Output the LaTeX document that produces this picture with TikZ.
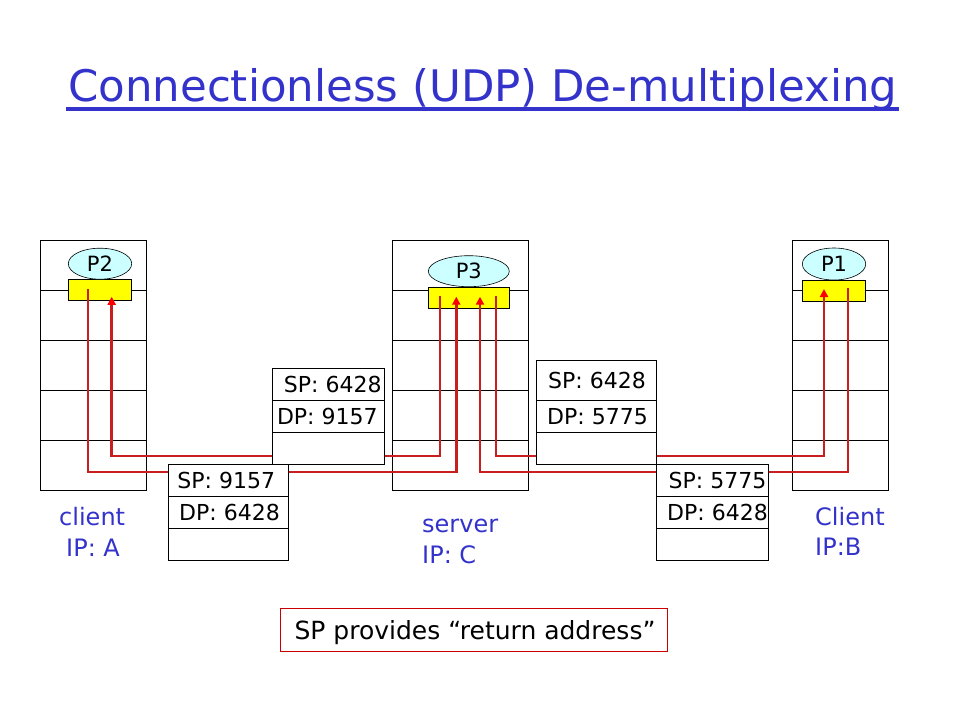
\documentclass[tikz,border=0pt]{standalone}
\usepackage{fontspec}
\setmainfont{DejaVu Sans}
\usetikzlibrary{arrows.meta,shapes.geometric}
\definecolor{ttl}{RGB}{51,51,204}
\definecolor{flowred}{RGB}{200,30,30}
\definecolor{tipred}{RGB}{250,0,0}
\definecolor{notered}{RGB}{204,0,0}
\definecolor{sockyellow}{RGB}{255,255,0}
\definecolor{proccyan}{RGB}{204,255,255}
\begin{document}
\begin{tikzpicture}[x=1pt,y=-1pt,
  hostbox/.style={draw=black,line width=0.8pt,fill=white,minimum height=249.7pt,inner sep=0pt,outer sep=0pt},
  sockbox/.style={draw=black,line width=0.8pt,fill=sockyellow,minimum height=21pt,inner sep=0pt,outer sep=0pt},
  procell/.style={ellipse,draw=black,line width=0.6pt,fill=proccyan,minimum height=31pt,inner sep=0pt,outer sep=0pt,font=\fontsize{21}{21}\selectfont},
  flow/.style={draw=flowred,line width=2.7pt},
  flowarr/.style={flow,-{Triangle[length=8pt,width=8pt,color=tipred]}},
  pktrow/.style={draw=black,line width=0.8pt,fill=white,inner sep=0pt,outer sep=0pt},
  pkttext/.style={font=\fontsize{22}{22}\selectfont,inner sep=0pt},
  hostlabel/.style={text=ttl,font=\fontsize{24}{24}\selectfont,inner sep=0pt,anchor=base west}
]
\useasboundingbox (0,0) rectangle (960,720);
\fill[white] (0,0) rectangle (960,720);

% title
\node[anchor=base west,inner sep=0pt,text=ttl] (title) at (68,101.5)
  {\resizebox{829pt}{!}{\fontsize{44}{44}\selectfont Connectionless (UDP) De-multiplexing}};
\draw[ttl,line width=3.5pt] (66,109) -- (899,109);

% hosts
\node[hostbox,minimum width=106pt] (hA) at (93.3,365.2) {};
\node[hostbox,minimum width=136pt] (hC) at (460.3,365.2) {};
\node[hostbox,minimum width=96pt] (hB) at (840.3,365.2) {};
\foreach \h in {hA,hC,hB}{
  \foreach \yy in {290.3,340.3,390.3,440.3}{
    \draw[line width=0.8pt] (\h.west |- 0,\yy) -- (\h.east |- 0,\yy);
  }
}

% sockets
\node[sockbox,minimum width=63.4pt] (sA) at (100,289.8) {};
\node[sockbox,minimum width=81pt,minimum height=21.4pt] (sC) at (468.8,298) {};
\node[sockbox,minimum width=63.4pt,minimum height=21.4pt] (sB) at (834,291) {};

% processes
\node[procell,minimum width=63.4pt] (pA) at (100,263.7) {P2};
\node[procell,minimum width=81pt] (pC) at (468.8,271.2) {P3};
\node[procell,minimum width=63.4pt,minimum height=32pt] (pB) at (834,264) {P1};

% flows
\draw[flowarr] ([xshift=-12pt,yshift=1pt]sA.center) -- ++(0,183.2) -| ([xshift=-12.5pt,yshift=1.3pt]sC.center);
\draw[flowarr] ([xshift=-28.8pt,yshift=2pt]sC.center) -- ++(0,160) -| ([xshift=11.7pt,yshift=-7pt]sA.center);
\draw[flowarr] ([xshift=27.2pt,yshift=2pt]sC.center) -- ++(0,160) -| ([xshift=-10pt,yshift=2pt]sB.center);
\draw[flowarr] ([xshift=14pt,yshift=3pt]sB.center) -- ++(0,184) -| ([xshift=11.2pt,yshift=1.3pt]sC.center);

% packets
\node[pktrow,minimum width=120pt,minimum height=32.4pt] (q1a) at (228.3,480.5) {};
\node[pktrow,minimum width=120pt,minimum height=32pt] (q1b) at (228.3,512.7) {};
\node[pktrow,minimum width=120pt,minimum height=31.3pt] (q1c) at (228.3,544.35) {};
\node[pkttext] (q1sp) at ([xshift=-2pt]q1a.center) {SP: 9157};
\node[pkttext] (q1dp) at ([xshift=1.2pt]q1b.center) {DP: 6428};

\node[pktrow,minimum width=112pt,minimum height=32pt] (q2a) at (328.3,384.3) {};
\node[pktrow,minimum width=112pt,minimum height=32pt] (q2b) at (328.3,416.3) {};
\node[pktrow,minimum width=112pt,minimum height=32pt] (q2c) at (328.3,448.3) {};
\node[pkttext] (q2sp) at ([xshift=4.5pt]q2a.center) {SP: 6428};
\node[pkttext] (q2dp) at ([xshift=-1pt]q2b.center) {DP: 9157};

\node[pktrow,minimum width=119.6pt,minimum height=39.6pt] (q3a) at (596.5,380.5) {};
\node[pktrow,minimum width=119.6pt,minimum height=32pt] (q3b) at (596.5,416.3) {};
\node[pktrow,minimum width=119.6pt,minimum height=32pt] (q3c) at (596.5,448.3) {};
\node[pkttext] (q3sp) at ([xshift=0.5pt]q3a.center) {SP: 6428};
\node[pkttext] (q3dp) at ([xshift=1pt]q3b.center) {DP: 5775};

\node[pktrow,minimum width=111.6pt,minimum height=32.4pt] (q4a) at (712.5,480.5) {};
\node[pktrow,minimum width=111.6pt,minimum height=31.6pt] (q4b) at (712.5,512.5) {};
\node[pktrow,minimum width=111.6pt,minimum height=32pt] (q4c) at (712.5,544.3) {};
\node[pkttext] (q4sp) at ([xshift=5pt]q4a.center) {SP: 5775};
\node[pkttext] (q4dp) at ([xshift=5pt]q4b.center) {DP: 6428};

% host labels
\node[hostlabel] (lA1) at (59,525) {client};
\node[hostlabel] (lA2) at (66,556) {IP: A};
\node[hostlabel] (lC1) at (422,532.7) {server};
\node[hostlabel] (lC2) at (422,563) {IP: C};
\node[hostlabel] (lB1) at (815,525) {Client};
\node[hostlabel] (lB2) at (815,555) {IP:B};

% note
\node[draw=notered,line width=1pt,minimum width=387pt,minimum height=43pt,inner sep=0pt] (note) at (473.6,630) {};
\node[font=\fontsize{25}{25}\selectfont,anchor=base,inner sep=0pt] (notetxt) at (475,639) {SP provides “return address”};
\end{tikzpicture}
\end{document}
